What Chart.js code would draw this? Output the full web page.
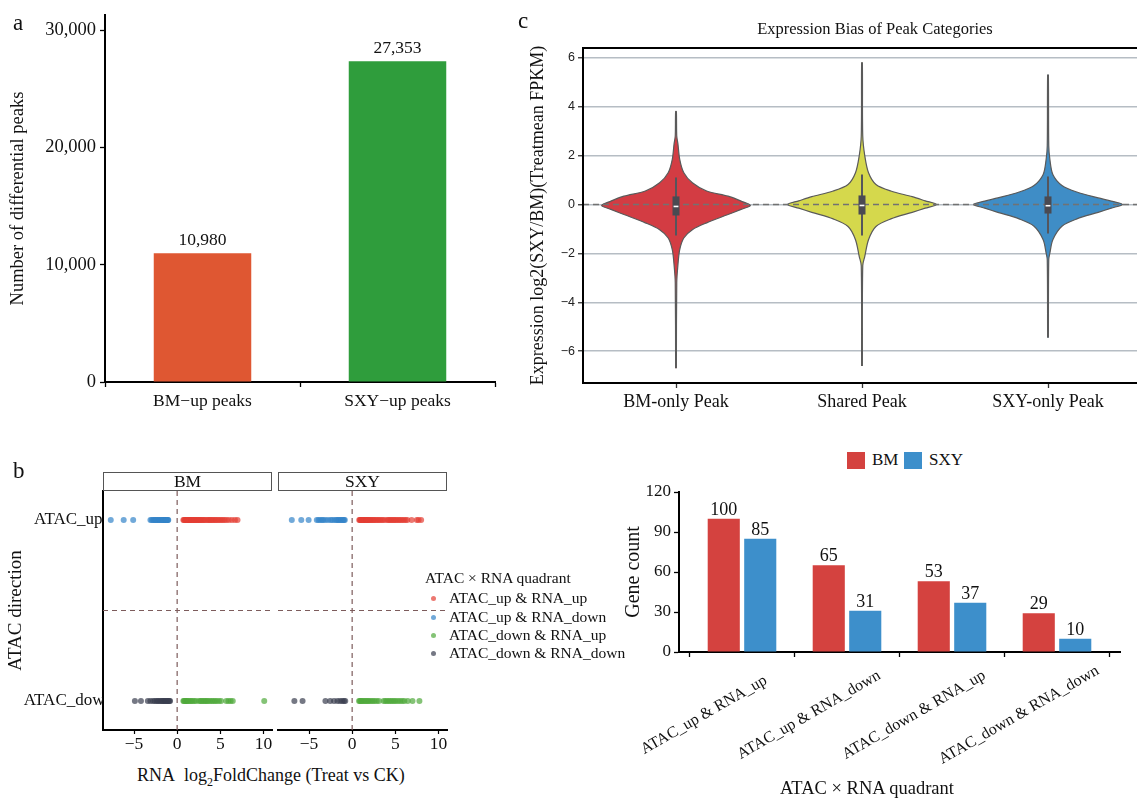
<!DOCTYPE html>
<html>
<head>
<meta charset="utf-8">
<title>Differential peaks figure</title>
<script src="https://cdn.jsdelivr.net/npm/chart.js@4.4.1/dist/chart.umd.min.js"></script>
<style>
  html, body { margin: 0; padding: 0; background: #fff; }
  body { position: relative; width: 1137px; height: 799px; overflow: hidden;
         font-family: "Liberation Serif", "Times New Roman", serif; color: #111; }
  canvas { position: absolute; }
  .txt { position: absolute; white-space: nowrap; line-height: 1; }
  .tag { font-size: 23px; }
  .strip { position: absolute; box-sizing: border-box; height: 19px; border: 1.5px solid #555;
           background: #fff; font-size: 17.5px; display: flex; align-items: center; justify-content: center; }
  .dot { position: absolute; width: 5px; height: 5px; border-radius: 50%; }
  .sq { position: absolute; width: 18px; height: 17px; }
</style>
</head>
<body>
<canvas id="chartA" width="500" height="430" style="left:0;top:0"></canvas>
<canvas id="chartC" width="640" height="420" style="left:520px;top:0"></canvas>
<canvas id="chartBM" width="280" height="300" style="left:0;top:460px"></canvas>
<canvas id="chartSXY" width="190" height="300" style="left:270px;top:460px"></canvas>
<canvas id="chartD" width="537" height="330" style="left:600px;top:470px"></canvas>

<div class="txt tag" style="left:13px;top:11px">a</div>
<div class="txt tag" style="left:518px;top:9px">c</div>
<div class="txt tag" style="left:13px;top:459px">b</div>

<div class="txt" style="left:875px;top:21px;font-size:16.5px;transform:translateX(-50%)">Expression Bias of Peak Categories</div>
<div class="txt" style="left:137px;top:766px;font-size:18px">RNA&nbsp; log<sub style="font-size:12px">2</sub>FoldChange (Treat vs CK)</div>
<div class="txt" style="left:867px;top:779px;font-size:18.5px;transform:translateX(-50%)">ATAC × RNA quadrant</div>
<div class="txt" style="left:425px;top:570px;font-size:15.5px">ATAC × RNA quadrant</div>
<div id="overlay"></div>

<script>
// ---- data ----
const peakCategories = ['BM\u2212up peaks', 'SXY\u2212up peaks'];
const peakCounts = [10980, 27353];
const peakColors = ['#DF5732', '#2F9D3C'];
const peakTicks = [0, 10000, 20000, 30000];

const violinCategories = ['BM-only Peak', 'Shared Peak', 'SXY-only Peak'];
const violinColors = ['#D33C43', '#D5D84C', '#3F8DC6'];
const violinTicks = [-6, -4, -2, 0, 2, 4, 6];
// violin outline: levels (y) and half widths (in category units)
const bmOnlyY = [-6.7, -3.2, -2.5, -1.85, -1.37, -1.03, -0.75, -0.41, -0.2, -0.04, 0.14, 0.34, 0.55, 0.89, 1.3, 1.85, 2.5, 2.8, 3.8];
const bmOnlyW = [0.002, 0.004, 0.01, 0.02, 0.042, 0.088, 0.165, 0.28, 0.35, 0.40, 0.35, 0.28, 0.165, 0.088, 0.042, 0.02, 0.01, 0.004, 0.002];
const sharedY = [-6.6, -2.5, -2.12, -1.44, -0.9, -0.59, -0.32, -0.15, 0, 0.15, 0.32, 0.55, 0.82, 1.3, 1.99, 2.8, 5.8];
const sharedW = [0.002, 0.004, 0.015, 0.035, 0.075, 0.155, 0.27, 0.34, 0.40, 0.34, 0.27, 0.155, 0.075, 0.035, 0.015, 0.004, 0.002];
const sxyOnlyY = [-5.45, -2.26, -1.99, -1.44, -0.89, -0.59, -0.32, -0.15, 0, 0.14, 0.27, 0.51, 0.78, 1.23, 1.85, 2.4, 5.3];
const sxyOnlyW = [0.002, 0.004, 0.01, 0.026, 0.075, 0.155, 0.27, 0.34, 0.40, 0.34, 0.27, 0.155, 0.075, 0.026, 0.01, 0.004, 0.002];
const boxLow = [-1.27, -1.27, -1.19];
const boxQ1 = [-0.45, -0.41, -0.37];
const boxMedian = [-0.08, -0.04, -0.05];
const boxQ3 = [0.33, 0.37, 0.33];
const boxHigh = [1.1, 1.23, 1.15];

const facetNames = ['BM', 'SXY'];
const atacLevels = ['ATAC_down', 'ATAC_up'];
const quadrantLabels = ['ATAC_up & RNA_up', 'ATAC_up & RNA_down', 'ATAC_down & RNA_up', 'ATAC_down & RNA_down'];
const quadrantColors = ['rgba(228,62,52,0.7)', 'rgba(52,132,201,0.7)', 'rgba(80,170,60,0.7)', 'rgba(58,62,80,0.7)'];
const rnaTicks = [-5, 0, 5, 10];
// RNA log2FC of genes in each quadrant
const bmUpUp = [0.72, 0.8, 0.88, 0.95, 1.02, 1.1, 1.18, 1.25, 1.33, 1.4, 1.48, 1.55, 1.63, 1.7, 1.78, 1.86, 1.95, 2.03, 2.12, 2.2, 2.3, 2.4, 2.5, 2.6, 2.7, 2.8, 2.92, 3.05, 3.18, 3.3, 3.5, 3.62, 3.75, 3.88, 4.0, 4.15, 4.3, 4.45, 4.6, 4.78, 4.95, 5.12, 5.3, 5.5, 5.72, 6.0, 6.35, 6.7, 7.0];
const bmUpDown = [-7.7, -6.2, -5.1, -3.1, -2.95, -2.8, -2.7, -2.6, -2.5, -2.4, -2.3, -2.2, -2.1, -2.0, -1.9, -1.8, -1.7, -1.62, -1.55, -1.48, -1.4, -1.33, -1.26, -1.2, -1.14, -1.08, -1.03];
const bmDownUp = [0.72, 0.8, 0.9, 1.0, 1.1, 1.2, 1.35, 1.5, 1.65, 1.8, 2.0, 2.2, 2.55, 2.7, 2.85, 3.0, 3.15, 3.3, 3.45, 3.6, 3.8, 4.0, 4.2, 4.4, 4.6, 4.85, 5.1, 5.7, 5.95, 6.2, 6.45, 10.1];
const bmDownDown = [-4.9, -4.2, -3.4, -3.1, -2.8, -2.6, -2.4, -2.25, -2.1, -1.95, -1.8, -1.7, -1.6, -1.5, -1.4, -1.3, -1.2, -1.1, -1.0, -0.9, -0.82];
const sxyUpUp = [0.82, 0.9, 0.98, 1.05, 1.12, 1.2, 1.28, 1.36, 1.45, 1.53, 1.62, 1.7, 1.8, 1.9, 2.0, 2.1, 2.22, 2.35, 2.48, 2.6, 2.75, 2.9, 3.05, 3.2, 3.38, 3.55, 3.75, 4.05, 4.2, 4.35, 4.5, 4.65, 4.8, 4.95, 5.1, 5.28, 5.45, 5.62, 5.8, 6.0, 6.2, 6.4, 6.9, 7.5, 7.7, 8.0];
const sxyUpDown = [-7.0, -5.9, -5.05, -4.1, -3.9, -3.7, -3.5, -3.35, -3.1, -2.8, -2.5, -2.3, -2.05, -1.85, -1.7, -1.6, -1.45, -1.3, -1.2, -1.05, -0.95, -0.85];
const sxyDownUp = [0.8, 0.9, 1.0, 1.12, 1.25, 1.4, 1.55, 1.7, 1.85, 2.0, 2.2, 2.4, 2.6, 2.85, 3.1, 3.65, 3.85, 4.05, 4.25, 4.45, 4.65, 4.85, 5.05, 5.3, 5.55, 5.8, 6.05, 6.45, 7.0, 7.8];
const sxyDownDown = [-6.7, -5.75, -3.1, -2.55, -2.1, -1.7, -1.4, -1.15, -0.95, -0.8];

const groupNames = ['BM', 'SXY'];
const groupColors = ['#D4423F', '#3D8FCB'];
const bmGeneCounts = [100, 65, 53, 29];
const sxyGeneCounts = [85, 31, 37, 10];
const countTicks = [0, 30, 60, 90, 120];

// ---- helpers ----
const SERIF = '"Liberation Serif", "Times New Roman", serif';
const SANS = '"Liberation Sans", Arial, sans-serif';
Chart.defaults.font.family = SERIF;
Chart.defaults.color = '#111';
Chart.defaults.animation = false;
Chart.defaults.responsive = false;
Chart.defaults.events = [];
Chart.defaults.plugins.legend.display = false;
Chart.defaults.plugins.tooltip.enabled = false;

const onlyTicks = list => s => { s.ticks = list.map(v => ({ value: v })); };
const minus = v => (v < 0 ? '\u2212' + Math.abs(v) : String(v));
const axisGrid = { display: true, drawOnChartArea: false, color: '#000', tickLength: 5, tickWidth: 1.3 };
const axisBorder = { display: true, color: '#000', width: 2 };

function valueLabels(gap, size, fmt) {
  return {
    id: 'valueLabels',
    afterDatasetsDraw(chart) {
      const ctx = chart.ctx;
      ctx.save();
      ctx.font = size + 'px ' + SERIF;
      ctx.fillStyle = '#111';
      ctx.textAlign = 'center';
      ctx.textBaseline = 'alphabetic';
      chart.data.datasets.forEach((ds, i) => {
        chart.getDatasetMeta(i).data.forEach((bar, j) => {
          const v = ds.data[j];
          ctx.fillText(fmt(typeof v === 'object' ? v.y : v), bar.x, bar.y - gap);
        });
      });
      ctx.restore();
    }
  };
}

// ---- a: number of differential peaks ----
new Chart(document.getElementById('chartA'), {
  type: 'bar',
  data: {
    labels: peakCategories,
    datasets: [{ data: peakCounts, backgroundColor: peakColors, categoryPercentage: 1, barPercentage: 0.5 }]
  },
  options: {
    layout: { padding: { top: 10, right: 5, left: 0, bottom: 0 } },
    scales: {
      x: {
        grid: axisGrid, border: axisBorder,
        ticks: { font: { size: 17.5 }, color: '#111', padding: 4 },
        afterFit: s => { s.height = 48; }
      },
      y: {
        min: 0, max: 31300,
        afterBuildTicks: onlyTicks(peakTicks),
        grid: axisGrid, border: axisBorder,
        ticks: { font: { size: 18.5 }, color: '#111', padding: 4, callback: v => v.toLocaleString('en-US') },
        title: { display: true, text: 'Number of differential peaks', font: { size: 18.5 }, color: '#111', padding: { top: 7, bottom: 0 } },
        afterFit: s => { s.width = 105; }
      }
    }
  },
  plugins: [valueLabels(8, 17.5, v => v.toLocaleString('en-US'))]
});

// ---- c: violin plot ----
function violinOutline(center, ys, ws) {
  const left = ys.map((y, k) => ({ x: center - ws[k], y }));
  const right = ys.map((y, k) => ({ x: center + ws[k], y })).reverse();
  return left.concat(right);
}
const violinLevels = [bmOnlyY, sharedY, sxyOnlyY];
const violinWidths = [bmOnlyW, sharedW, sxyOnlyW];
const violinSets = [];
violinCategories.forEach((name, i) => {
  const c = i + 1;
  violinSets.push({
    label: name, data: violinOutline(c, violinLevels[i], violinWidths[i]),
    borderColor: '#5a5a5a', borderWidth: 1.2, backgroundColor: violinColors[i],
    fill: 'shape', pointRadius: 0, tension: 0.3, order: 10
  });
  violinSets.push({ data: [{ x: c, y: boxLow[i] }, { x: c, y: boxHigh[i] }], borderColor: '#55555c', borderWidth: 2, pointRadius: 0, order: 3 });
  violinSets.push({ data: [{ x: c, y: boxQ1[i] }, { x: c, y: boxQ3[i] }], borderColor: '#4a4a52', borderWidth: 7, pointRadius: 0, order: 2 });
  violinSets.push({ data: [{ x: c - 0.013, y: boxMedian[i] }, { x: c + 0.013, y: boxMedian[i] }], borderColor: '#ffffff', borderWidth: 1.6, pointRadius: 0, order: 1 });
});
violinSets.push({ data: [{ x: 0.5, y: 0 }, { x: 3.5, y: 0 }], borderColor: '#727272', borderDash: [6, 4], borderWidth: 1.5, pointRadius: 0, order: 5 });

const framePlugin = {
  id: 'frame',
  afterDraw(chart) {
    const { ctx, chartArea: a } = chart;
    ctx.save();
    ctx.strokeStyle = '#000';
    ctx.lineWidth = 2;
    ctx.strokeRect(a.left, a.top, a.right - a.left, a.bottom - a.top);
    ctx.restore();
  }
};

new Chart(document.getElementById('chartC'), {
  type: 'line',
  data: { datasets: violinSets },
  options: {
    layout: { padding: { top: 48, right: 19, left: 0, bottom: 0 } },
    scales: {
      x: {
        type: 'linear', min: 0.5, max: 3.5,
        afterBuildTicks: onlyTicks([1, 2, 3]),
        grid: { display: true, drawOnChartArea: false, color: '#333', tickLength: 5, tickWidth: 1.3 },
        border: axisBorder,
        ticks: { font: { size: 18 }, color: '#111', padding: 3, callback: v => violinCategories[v - 1] },
        afterFit: s => { s.height = 37; }
      },
      y: {
        min: -7.3, max: 6.4,
        afterBuildTicks: onlyTicks(violinTicks),
        grid: { color: '#b6bdc4', lineWidth: 1.5, tickColor: '#333', tickLength: 5, tickWidth: 1.3 },
        border: axisBorder,
        ticks: { font: { family: SANS, size: 12.5 }, color: '#222', padding: 3, callback: minus },
        title: { display: true, text: 'Expression log2(SXY/BM)(Treatmean FPKM)', font: { size: 18 }, color: '#111', padding: { top: 7, bottom: 0 } },
        afterFit: s => { s.width = 63; }
      }
    }
  },
  plugins: [framePlugin]
});

// ---- b: faceted strip plot ----
function facetChart(id, series, first) {
  const pts = (xs, y) => xs.map(x => ({ x, y }));
  const levels = [2, 2, 1, 1];
  const datasets = series.map((xs, k) => ({
    label: quadrantLabels[k], data: pts(xs, levels[k]), showLine: false,
    pointRadius: 3, pointBorderWidth: 0, pointBackgroundColor: quadrantColors[k], order: 1
  }));
  const dash = { borderColor: '#7d5c5c', borderDash: [5, 4], borderWidth: 1.2, pointRadius: 0, order: 20 };
  datasets.push(Object.assign({ data: [{ x: 0, y: 0.84 }, { x: 0, y: 2.16 }] }, dash));
  datasets.push(Object.assign({ data: [{ x: -8.6, y: 1.5 }, { x: 11.0, y: 1.5 }] }, dash));
  return new Chart(document.getElementById(id), {
    type: 'line',
    data: { datasets },
    options: {
      layout: { padding: first ? { top: 31, right: 8, left: 0, bottom: 0 } : { top: 31, right: 13, left: 8, bottom: 0 } },
      scales: {
        x: {
          type: 'linear', min: -8.6, max: 11.0,
          afterBuildTicks: onlyTicks(rnaTicks),
          grid: { display: true, drawOnChartArea: false, color: '#000', tickLength: 4, tickWidth: 1.2 },
          border: axisBorder,
          ticks: { font: { size: 17.5 }, color: '#111', padding: 0, maxRotation: 0, callback: minus },
          afterFit: s => { s.height = 30; }
        },
        y: {
          display: first, min: 0.84, max: 2.16,
          afterBuildTicks: onlyTicks([1, 2]),
          grid: { display: false, drawTicks: false },
          border: axisBorder,
          ticks: { font: { size: 17 }, color: '#111', crossAlign: 'center', padding: -10, callback: v => atacLevels[v - 1] },
          title: { display: true, text: 'ATAC direction', font: { size: 19 }, color: '#111', padding: { top: 5, bottom: 0 } },
          afterFit: s => { s.width = first ? 103 : 0; }
        }
      }
    }
  });
}
facetChart('chartBM', [bmUpUp, bmUpDown, bmDownUp, bmDownDown], true);
facetChart('chartSXY', [sxyUpUp, sxyUpDown, sxyDownUp, sxyDownDown], false);

// ---- d: gene counts per quadrant ----
const rotatedLabels = {
  id: 'rotatedLabels',
  afterDraw(chart) {
    const { ctx, scales: { x }, chartArea } = chart;
    ctx.save();
    ctx.font = '16px ' + SERIF;
    ctx.fillStyle = '#111';
    ctx.textAlign = 'center';
    ctx.textBaseline = 'middle';
    quadrantLabels.forEach((label, i) => {
      ctx.save();
      ctx.translate(x.getPixelForValue(i + 1) - 38, chartArea.bottom + 63);
      ctx.rotate(-Math.PI / 6);
      ctx.fillText(label, 0, 0);
      ctx.restore();
    });
    ctx.restore();
  }
};

new Chart(document.getElementById('chartD'), {
  type: 'bar',
  data: {
    datasets: [bmGeneCounts, sxyGeneCounts].map((counts, g) => ({
      label: groupNames[g],
      data: counts.map((v, i) => ({ x: i + 1, y: v })),
      backgroundColor: groupColors[g],
      categoryPercentage: 0.695, barPercentage: 0.88
    }))
  },
  options: {
    layout: { padding: { top: 22, right: 17, left: 0, bottom: 0 } },
    scales: {
      x: {
        type: 'linear', min: 0.4, max: 4.6, offset: false,
        afterBuildTicks: onlyTicks([1, 2, 3, 4]),
        grid: axisGrid, border: axisBorder,
        ticks: { display: false },
        afterFit: s => { s.height = 148; }
      },
      y: {
        min: 0, max: 120,
        afterBuildTicks: onlyTicks(countTicks),
        grid: axisGrid, border: axisBorder,
        ticks: { font: { size: 17 }, color: '#111', padding: 3 },
        title: { display: true, text: 'Gene count', font: { size: 20 }, color: '#111', padding: { top: 22, bottom: 0 } },
        afterFit: s => { s.width = 79; }
      }
    }
  },
  plugins: [valueLabels(4, 18, v => String(v)), rotatedLabels]
});

// ---- html overlays: strips and legends ----
const overlay = document.getElementById('overlay');
function addEl(cls, style, text) {
  const el = document.createElement('div');
  el.className = cls;
  el.style.cssText = style;
  if (text) el.textContent = text;
  overlay.appendChild(el);
  return el;
}
const stripLeft = [103, 278];
facetNames.forEach((name, i) => addEl('strip', `left:${stripLeft[i]}px;top:472px;width:169px`, name));

const legendY = [598, 617, 635, 653];
quadrantLabels.forEach((label, k) => {
  addEl('dot', `left:430.5px;top:${legendY[k] - 2.5}px;background:${quadrantColors[k]}`);
  addEl('txt', `left:449px;top:${legendY[k] - 8.4}px;font-size:15.5px`, label);
});

const sqLeft = [847, 904];
const nameLeft = [872, 929];
groupNames.forEach((name, g) => {
  addEl('sq', `left:${sqLeft[g]}px;top:452px;background:${groupColors[g]}`);
  addEl('txt', `left:${nameLeft[g]}px;top:451px;font-size:17px`, name);
});
</script>
</body>
</html>
